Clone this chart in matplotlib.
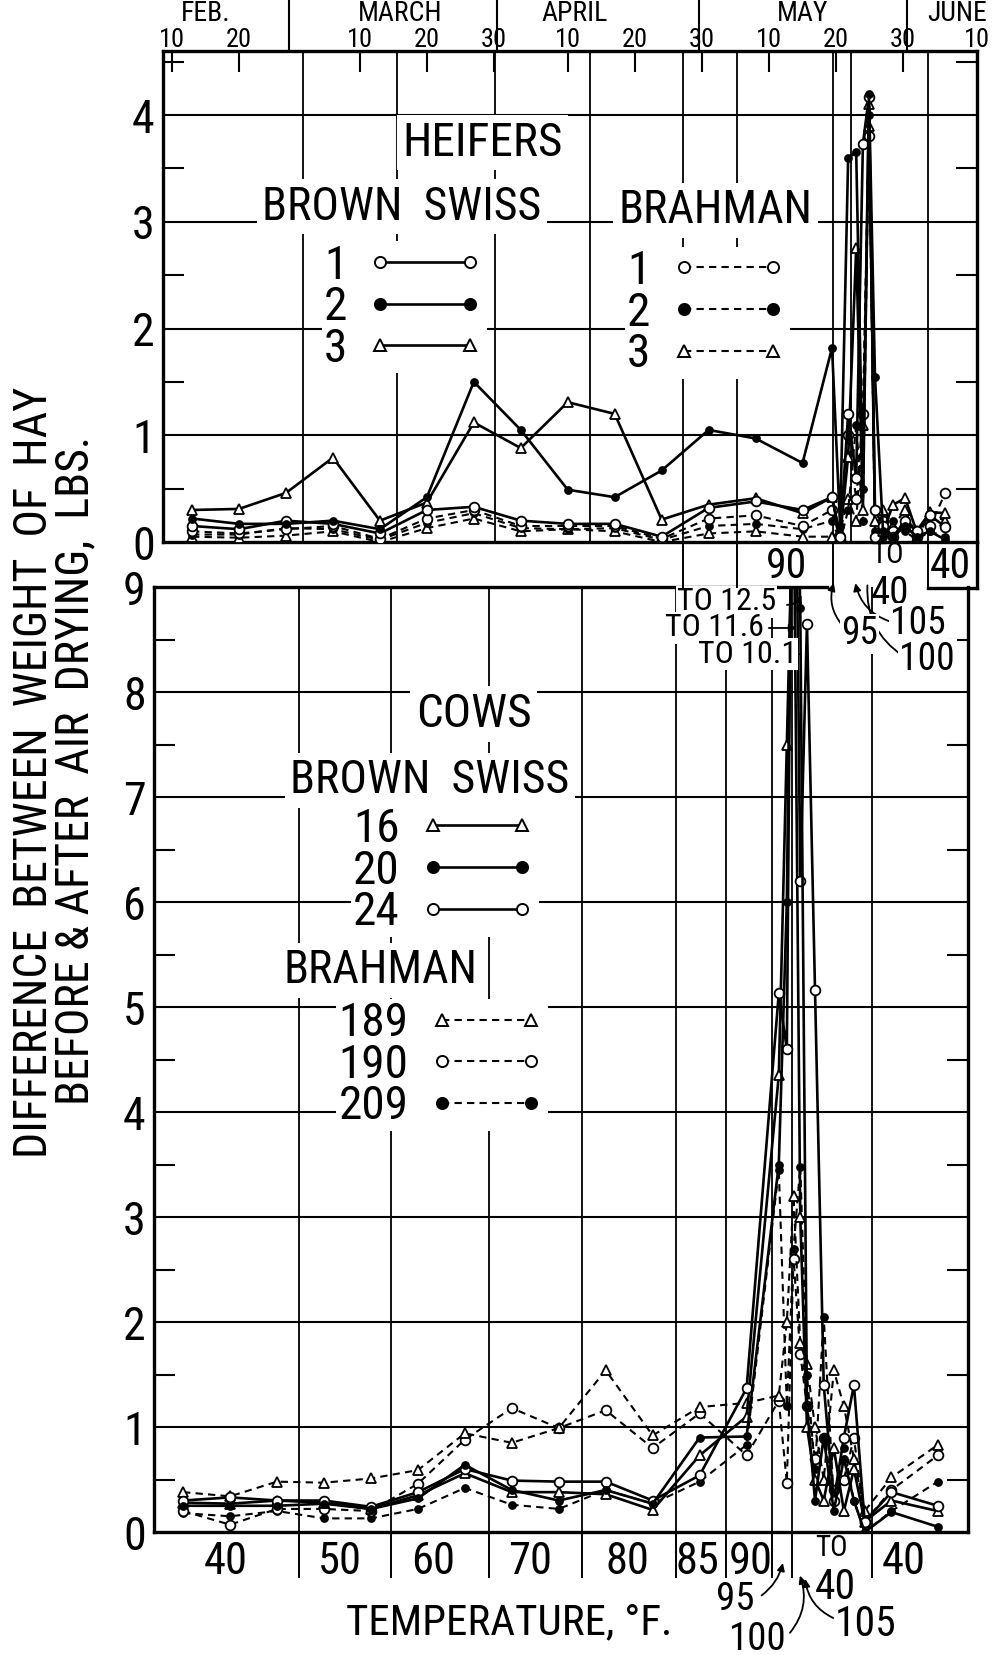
import numpy as np
import matplotlib
matplotlib.use('Agg')
import matplotlib.pyplot as plt
from matplotlib import font_manager
from matplotlib.lines import Line2D

# narrow lettering font if one is installed
names = {f.name for f in font_manager.fontManager.ttflist}
FONT = 'DejaVu Sans'
for cand in ['Liberation Sans Narrow', 'Roboto Condensed', 'Open Sans Condensed']:
    if cand in names:
        FONT = cand
        break
plt.rcParams['font.family'] = [FONT, 'DejaVu Sans']

# ---- data (x = day number, Feb 1 = 1) ----
heifer_days = [13, 20, 27, 34, 41, 48, 55, 62, 69, 76, 83, 90, 97, 104,
               108.4, 109.6, 110.8, 112.0, 113.0, 113.9, 114.8, 116.0, 117.5, 119.3, 121.0, 123.0, 125.3]
h_bs1 = [0.15, 0.12, 0.2, 0.17, 0.08, 0.3, 0.33, 0.2, 0.17, 0.17, 0.05, 0.32, 0.38, 0.3,
         0.42, 0.05, 1.2, 0.6, 3.73, 4.17, 0.3, 0.15, 0.05, 0.2, 0.1, 0.25, 0.14]
h_bs2 = [0.22, 0.17, 0.17, 0.2, 0.12, 0.42, 1.5, 1.05, 0.49, 0.42, 0.67, 1.05, 0.97, 0.74,
         1.82, 0.15, 3.6, 3.65, 0.5, 4.2, 1.55, 0.1, 0.05, 0.15, 0.05, 0.1, 0.02]
h_bs3 = [0.3, 0.31, 0.46, 0.79, 0.2, 0.37, 1.12, 0.88, 1.31, 1.2, 0.21, 0.35, 0.41, 0.27,
         0.42, 0.05, 0.8, 2.75, 0.3, 4.1, 0.2, 0.1, 0.35, 0.41, 0.1, 0.28, 0.27]
h_br1 = [0.1, 0.08, 0.12, 0.15, 0.03, 0.22, 0.3, 0.15, 0.15, 0.15, 0.03, 0.22, 0.25, 0.15,
         0.3, 0.02, 1.0, 0.4, 1.2, 3.8, 0.05, 0.2, 0.1, 0.15, 0.05, 0.15, 0.46]
h_br2 = [0.07, 0.07, 0.13, 0.12, 0.02, 0.18, 0.27, 0.13, 0.12, 0.13, 0.02, 0.15, 0.17, 0.12,
         0.2, 0.0, 0.3, 1.1, 0.2, 4.0, 0.1, 0.05, 0.2, 0.1, 0.02, 0.1, 0.05]
h_br3 = [0.05, 0.04, 0.06, 0.1, 0.0, 0.13, 0.22, 0.1, 0.12, 0.1, 0.0, 0.08, 0.1, 0.05,
         0.05, 0.1, 0.4, 0.2, 1.1, 3.9, 0.0, 0.3, 0.15, 0.3, 0.05, 0.25, 0.2]

cow_days = [13, 20, 27, 34, 41, 48, 55, 62, 69, 76, 83, 90, 97,
            101.8, 103, 104, 105, 106, 107.2, 108.5, 110, 111.5, 113, 114.6, 118.6, 125.5]
c16 = [0.28, 0.27, 0.3, 0.28, 0.22, 0.35, 0.56, 0.38, 0.38, 0.36, 0.21, 0.73, 1.1,
       4.35, 7.5, 10.1, 3.0, 1.0, 0.5, 0.3, 0.8, 0.2, 0.6, 0.1, 0.3, 0.2]
c20 = [0.25, 0.25, 0.25, 0.27, 0.22, 0.32, 0.64, 0.4, 0.3, 0.4, 0.27, 0.9, 0.91,
       3.5, 6.0, 11.6, 8.8, 1.2, 0.3, 0.9, 0.2, 0.7, 0.3, 0.0, 0.19, 0.05]
c24 = [0.3, 0.33, 0.3, 0.3, 0.24, 0.38, 0.6, 0.49, 0.48, 0.48, 0.3, 0.54, 1.37,
       5.13, 4.6, 12.5, 6.2, 8.65, 5.16, 1.4, 0.3, 0.9, 1.4, 0.1, 0.38, 0.25]
c189 = [0.38, 0.34, 0.48, 0.47, 0.51, 0.59, 0.94, 0.85, 0.99, 1.54, 0.92, 1.19, 1.23,
        1.3, 2.0, 3.2, 1.8, 1.6, 1.0, 0.5, 1.54, 1.2, 0.7, 0.2, 0.52, 0.83]
c190 = [0.2, 0.07, 0.22, 0.22, 0.2, 0.46, 0.88, 1.18, 0.99, 1.16, 0.8, 1.13, 0.73,
        1.25, 0.47, 2.6, 1.7, 1.2, 0.7, 0.9, 0.4, 0.5, 0.9, 0.1, 0.4, 0.73]
c209 = [0.18, 0.15, 0.2, 0.13, 0.13, 0.22, 0.42, 0.26, 0.22, 0.4, 0.27, 0.48, 0.83,
        3.45, 1.2, 2.7, 3.48, 1.5, 0.6, 2.05, 0.3, 0.8, 0.3, 0.0, 0.2, 0.48]

# date axis (top)
date_days = [10, 20, 38, 48, 58, 69, 79, 89, 99, 109, 119, 130]
date_labels = ['10', '20', '10', '20', '30', '10', '20', '30', '10', '20', '30', '10']
month_names = ['FEB.', 'MARCH', 'APRIL', 'MAY', 'JUNE']
month_label_days = [15, 44, 70, 104, 127]
month_edges = [27.5, 58.5, 88.5, 119.5]

# temperature classes
top_bounds = [29.5, 43.5, 58.1, 72.3, 86.2, 94.2, 108.5, 111.3, 122.7]
bot_bounds = [30.3, 44.0, 58.6, 72.4, 86.5, 93.9, 100.8, 103.7, 115.7]
bot_temp_labels = ['40', '50', '60', '70', '80', '85', '90', '40']
bot_temp_days = [19.4, 36.4, 50.2, 64.8, 79.2, 89.6, 97.6, 120.4]

XMIN, XMAX = 8.66, 130

solid_open = dict(ls='-', marker='o', mfc='white')
solid_fill = dict(ls='-', marker='o', mfc='black')
solid_tri = dict(ls='-', marker='^', mfc='white')
dash = (0, (3.5, 2.5))
dash_open = dict(ls=dash, marker='o', mfc='white')
dash_fill = dict(ls=dash, marker='o', mfc='black')
dash_tri = dict(ls=dash, marker='^', mfc='white')


def series(ax, x, y, st):
    ms = 5 if st['mfc'] == 'black' else 7
    lw = 1.9 if st['ls'] == '-' else 1.5
    ax.plot(x, y, color='k', lw=lw, ls=st['ls'], marker=st['marker'], mfc=st['mfc'],
            mec='k', mew=1.3, ms=ms, zorder=3)


def handle(st):
    lw = 1.9 if st['ls'] == '-' else 1.5
    return Line2D([], [], color='k', lw=lw, ls=st['ls'], marker=st['marker'],
                  mfc=st['mfc'], mec='k', mew=1.4, ms=8)


def legend(ax, styles, labels, x, y, size=34):
    lg = ax.legend([handle(s) for s in styles], labels, loc='center',
                   bbox_to_anchor=(x, y), bbox_transform=ax.transData,
                   markerfirst=False, numpoints=2, handlelength=2.5, fontsize=size,
                   frameon=True, facecolor='white', edgecolor='none', framealpha=1,
                   borderpad=0.05, labelspacing=-0.05, handletextpad=0.4)
    lg.set_zorder(4)
    ax.add_artist(lg)


def frame(ax, top, bounds):
    ax.set_xlim(XMIN, XMAX)
    ax.set_ylim(0, top)
    for s in ax.spines.values():
        s.set_linewidth(2.4)
    ax.set_yticks(range(0, int(top) + 1))
    ax.set_yticks(np.arange(0.5, top, 1), minor=True)
    ax.tick_params(axis='y', which='major', length=0, labelsize=33, pad=6)
    ax.tick_params(axis='y', which='minor', direction='in', length=15, width=1.5,
                   left=True, right=True)
    for v in range(1, int(top) + 1):
        if v < top:
            ax.axhline(v, color='k', lw=1.5, zorder=1)
    for b in bounds:
        ax.axvline(b, color='k', lw=1.3, zorder=1)


fig = plt.figure(figsize=(9.98, 16.55), dpi=100)
ax1 = fig.add_axes([0.1633, 0.6725, 0.8156, 0.2967])
ax2 = fig.add_axes([0.1543, 0.0743, 0.8156, 0.5710])
ax1.set_zorder(3)

# ---- heifers ----
top1 = 4.6
frame(ax1, top1, top_bounds)
for y, st in [(h_br3, dash_tri), (h_br2, dash_fill), (h_br1, dash_open),
              (h_bs3, solid_tri), (h_bs1, solid_open), (h_bs2, solid_fill)]:
    series(ax1, heifer_days, y, st)

# date scale along the top
ax1.set_xticks(date_days)
ax1.tick_params(axis='x', which='major', direction='in', length=15, width=1.5,
                top=True, bottom=False, labeltop=False, labelbottom=False)
for d, t in zip(date_days, date_labels):
    ax1.text(d, 4.70, t, ha='center', va='center', fontsize=19)
for d, m in zip(month_label_days, month_names):
    ax1.text(d, 4.955, m, ha='center', va='center', fontsize=20)
for d in month_edges:
    ax1.plot([d, d], [top1, 5.08], color='k', lw=1.5, clip_on=False)

box = dict(fc='white', ec='none', pad=4)
ax1.text(56.3, 3.74, 'HEIFERS', ha='center', va='center', fontsize=34, bbox=box, zorder=4)
ax1.text(44.3, 3.14, 'BROWN  SWISS', ha='center', va='center', fontsize=33, bbox=box, zorder=4)
ax1.text(91.1, 3.11, 'BRAHMAN', ha='center', va='center', fontsize=33, bbox=box, zorder=4)
legend(ax1, [solid_open, solid_fill, solid_tri], ['1', '2', '3'], 44.6, 2.2)
legend(ax1, [dash_open, dash_fill, dash_tri], ['1', '2', '3'], 89.8, 2.15)

# temperature strip under heifer panel
for b in [86.2, 94.2, 108.5, 122.7]:
    ax1.plot([b, b], [0, -0.42], color='k', lw=1.4, clip_on=False)
ax1.plot([XMAX, XMAX], [0, -0.43], color='k', lw=2.4, clip_on=False)
ax1.plot([122.7, XMAX], [-0.43, -0.43], color='k', lw=2.4, clip_on=False)
ax1.text(101.6, -0.23, '90', ha='center', va='center', fontsize=30)
ax1.text(116.6, -0.12, 'TO', ha='center', va='center', fontsize=21)
ax1.text(117.0, -0.48, '40', ha='center', va='center', fontsize=28)
ax1.text(126.0, -0.23, '40', ha='center', va='center', fontsize=30)
txt = dict(ha='center', va='center', fontsize=27, zorder=5,
           bbox=dict(fc='white', ec='none', pad=1))
ax1.text(112.5, -0.86, '95', **txt)
ax1.text(121.2, -0.76, '105', **txt)
ax1.text(122.6, -1.1, '100', **txt)
arr = dict(arrowstyle='-|>', color='k', lw=1.3, mutation_scale=11)
ax1.annotate('', xy=(108.8, -0.36), xytext=(110.2, -0.8), annotation_clip=False,
             arrowprops=dict(connectionstyle='arc3,rad=-0.3', **arr))
ax1.annotate('', xy=(111.8, -0.36), xytext=(117.3, -0.75), annotation_clip=False,
             arrowprops=dict(connectionstyle='arc3,rad=-0.3', **arr))
ax1.annotate('', xy=(113.7, -0.38), xytext=(119.3, -1.08), annotation_clip=False,
             arrowprops=dict(arrowstyle='-', color='k', lw=1.3,
                             connectionstyle='arc3,rad=-0.3'))

# ---- cows ----
frame(ax2, 9, bot_bounds)
ax2.spines['top'].set_visible(False)
ax2.plot([XMIN, 109], [9, 9], color='k', lw=2.4, clip_on=False)
for y, st in [(c209, dash_fill), (c190, dash_open), (c189, dash_tri),
              (c16, solid_tri), (c24, solid_open), (c20, solid_fill)]:
    series(ax2, cow_days, y, st)
ax2.set_xticks([])

ax2.text(56.3, 7.79, 'COWS', ha='center', va='center', fontsize=34, bbox=box, zorder=4)
ax2.text(49.8, 7.16, 'BROWN  SWISS', ha='center', va='center', fontsize=33, bbox=box, zorder=4)
ax2.text(42.5, 5.35, 'BRAHMAN', ha='center', va='center', fontsize=33, bbox=box, zorder=4)
legend(ax2, [solid_tri, solid_fill, solid_open], ['16', '20', '24'], 52.0, 6.3)
legend(ax2, [dash_tri, dash_open, dash_fill], ['189', '190', '209'], 51.6, 4.45)

# off-scale notes
note = dict(ha='center', va='center', fontsize=23, zorder=5,
            bbox=dict(fc='white', ec='none', pad=1))
ax2.text(94.0, 8.86, 'TO 12.5', **note)
ax2.text(92.2, 8.61, 'TO 11.6', **note)
ax2.text(97.1, 8.36, 'TO 10.1', **note)
ax2.annotate('', xy=(105.3, 8.95), xytext=(102.6, 8.83),
             arrowprops=dict(connectionstyle='arc3,rad=0.4', **arr))
ax2.annotate('', xy=(104.9, 8.61), xytext=(99.9, 8.61), arrowprops=arr)
ax2.annotate('', xy=(105.4, 8.36), xytext=(103.4, 8.36),
             arrowprops=dict(arrowstyle='-', color='k', lw=1.3))

# temperature axis
for b in bot_bounds:
    ax2.plot([b, b], [0, -0.43], color='k', lw=1.4, clip_on=False)
for d, t in zip(bot_temp_days, bot_temp_labels):
    ax2.text(d, -0.29, t, ha='center', va='center', fontsize=32)
ax2.text(109.6, -0.15, 'TO', ha='center', va='center', fontsize=21)
ax2.text(110.3, -0.53, '40', ha='center', va='center', fontsize=30)
ax2.text(95.3, -0.64, '95', ha='center', va='center', fontsize=28)
ax2.text(98.6, -1.02, '100', ha='center', va='center', fontsize=28)
ax2.text(114.8, -0.88, '105', ha='center', va='center', fontsize=30)
ax2.annotate('', xy=(102.5, -0.27), xytext=(98.9, -0.62), annotation_clip=False,
             arrowprops=dict(connectionstyle='arc3,rad=0.2', **arr))
ax2.annotate('', xy=(104.8, -0.39), xytext=(103.2, -0.98), annotation_clip=False,
             arrowprops=dict(connectionstyle='arc3,rad=0.3', **arr))
ax2.annotate('', xy=(105.7, -0.42), xytext=(110.3, -0.83), annotation_clip=False,
             arrowprops=dict(connectionstyle='arc3,rad=-0.3', **arr))
ax2.text(61.6, -0.86, 'TEMPERATURE, °F.', ha='center', va='center', fontsize=31)

fig.text(0.034, 0.5335, 'DIFFERENCE  BETWEEN  WEIGHT  OF  HAY', rotation=90,
         ha='center', va='center', fontsize=33)
fig.text(0.076, 0.5347, 'BEFORE & AFTER  AIR  DRYING,  LBS.', rotation=90,
         ha='center', va='center', fontsize=33)

fig.savefig('out.png', dpi=100, facecolor='white')
